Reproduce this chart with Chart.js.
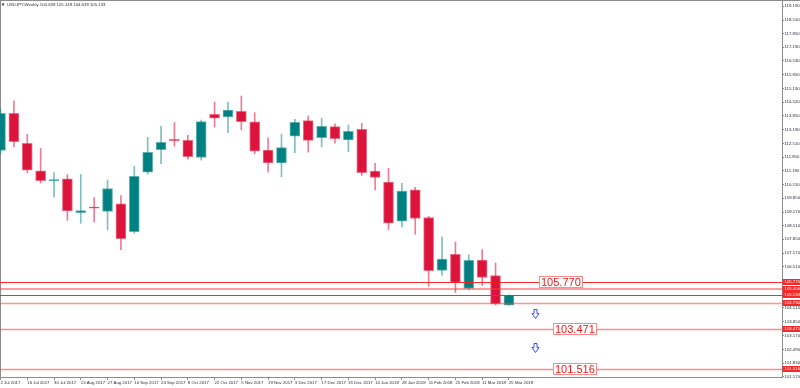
<!DOCTYPE html>
<html>
<head>
<meta charset="utf-8">
<script src="https://cdn.jsdelivr.net/npm/chart.js@4.4.1/dist/chart.umd.min.js"></script>
<style>
html,body{margin:0;padding:0;background:#ffffff;}
#wrap{width:800px;height:388px;position:relative;}
canvas{display:block;}
</style>
</head>
<body>
<div id="wrap"><canvas id="c" width="800" height="388"></canvas></div>
<script>
// ---------------- DATA ----------------
const symbol = 'USDJPY';
const timeframe = 'Weekly';

const weeks = [
  '2 Jul 2017','9 Jul 2017','16 Jul 2017','23 Jul 2017','30 Jul 2017','6 Aug 2017','13 Aug 2017','20 Aug 2017',
  '27 Aug 2017','3 Sep 2017','10 Sep 2017','17 Sep 2017','24 Sep 2017','1 Oct 2017','8 Oct 2017','15 Oct 2017',
  '22 Oct 2017','29 Oct 2017','5 Nov 2017','12 Nov 2017','19 Nov 2017','26 Nov 2017','3 Dec 2017','10 Dec 2017',
  '17 Dec 2017','24 Dec 2017','31 Dec 2017','7 Jan 2018','14 Jan 2018','21 Jan 2018','28 Jan 2018','4 Feb 2018',
  '11 Feb 2018','18 Feb 2018','25 Feb 2018','4 Mar 2018','11 Mar 2018','18 Mar 2018','25 Mar 2018'
];

const opens  = [112.17,113.98,112.52,111.18,110.70,110.79,109.14,109.42,109.21,109.57,108.22,111.12,112.21,112.70,112.66,111.83,
                113.93,113.80,114.08,113.56,112.19,111.56,112.86,113.62,112.79,113.33,112.68,113.20,111.17,110.63,108.73,110.26,
                108.91,106.34,107.12,105.46,106.84,106.08,104.639];
const highs  = [114.20,114.58,112.96,112.27,111.10,111.00,111.00,109.88,110.73,109.98,111.39,112.81,113.35,113.53,112.91,113.65,
                114.53,114.52,114.82,114.01,112.79,112.96,113.69,113.85,113.74,113.46,113.41,113.49,111.54,111.30,110.57,110.38,
                108.97,107.97,107.72,107.10,107.35,106.70,105.149];
const lows   = [112.00,112.34,111.09,110.58,109.90,108.77,108.63,108.68,108.31,107.35,108.14,111.02,111.53,112.38,111.74,111.70,
                113.31,113.04,113.17,112.01,111.12,110.89,112.06,112.09,112.35,112.52,112.11,110.95,110.25,108.32,108.45,108.09,
                105.56,106.09,105.26,105.38,105.60,104.65,104.639];
const closes = [113.98,112.60,111.21,110.70,110.75,109.23,109.25,109.36,110.32,107.88,110.91,112.08,112.56,112.65,111.87,113.57,
                113.74,114.13,113.57,112.14,111.56,112.31,113.54,112.66,113.35,112.75,113.10,111.09,110.86,108.63,110.19,108.86,
                106.32,106.89,105.75,106.82,105.99,104.71,105.133];

const yTickValues = [119.190,118.510,117.850,117.190,116.530,115.850,115.190,114.520,113.850,113.190,112.510,111.850,111.190,
                     110.510,109.850,109.170,108.510,107.850,107.170,106.510,105.850,105.170,104.510,103.850,103.170,102.490,
                     101.830,101.170];

const levelValues = [105.770, 105.450, 105.133, 104.730, 103.471, 101.516];
const boxedLevels = [105.770, 103.471, 101.516];

// ---------------- STYLE ----------------
const TEAL = '#008080', RED = '#dc143c';
const TEAL_SOFT = 'rgba(0,128,128,0.5)', RED_SOFT = 'rgba(220,20,60,0.55)';
const FRAME = '#8c8c8c';
const TINY = {family:'Liberation Sans, Arial, sans-serif', size:4.3};
const levelStyles = [
  {color:'rgba(255,30,30,0.95)', width:1},
  {color:'rgba(255,60,60,0.5)', width:2},
  {color:'rgba(255,30,30,0.95)', width:1},
  {color:'rgba(255,60,60,0.55)', width:1.5},
  {color:'rgba(255,60,60,0.6)', width:1.5},
  {color:'rgba(255,60,60,0.6)', width:1.5}
];
const boxAnchorIdx = [40.25, 41.29, 41.29];
const arrowMarks = [{i:39.95, v:104.26}, {i:39.95, v:102.585}];

const up = i => closes[i] >= opens[i];

const overlay = {
  id:'overlay',
  beforeDatasetsDraw(chart){
    const {ctx, chartArea:a} = chart;
    ctx.save();
    ctx.strokeStyle = FRAME; ctx.lineWidth = 1;
    ctx.beginPath();
    ctx.moveTo(0, 0.5); ctx.lineTo(800, 0.5);
    ctx.moveTo(0.5, 0); ctx.lineTo(0.5, a.bottom);
    ctx.stroke();
    ctx.restore();
  },
  afterDatasetsDraw(chart){
    const {ctx, chartArea:a, scales:{x, y}} = chart;
    ctx.save();
    // level lines
    levelValues.forEach((v, k) => {
      const st = levelStyles[k];
      const py = Math.round(y.getPixelForValue(v)) + (st.width % 2 ? 0.5 : 0);
      ctx.strokeStyle = st.color; ctx.lineWidth = st.width;
      ctx.beginPath(); ctx.moveTo(a.left, py); ctx.lineTo(a.right, py); ctx.stroke();
    });
    // boxed labels
    ctx.font = '11px "Liberation Sans", Arial, sans-serif';
    ctx.textBaseline = 'middle'; ctx.textAlign = 'left';
    boxedLevels.forEach((v, k) => {
      const txt = v.toFixed(3);
      const px = Math.round(x.getPixelForValue(boxAnchorIdx[k]));
      const py = Math.round(y.getPixelForValue(v));
      const w = Math.ceil(ctx.measureText(txt).width) + 4;
      ctx.fillStyle = '#ffffff';
      ctx.fillRect(px, py - 6, w, 12);
      ctx.strokeStyle = 'rgba(255,40,40,0.55)'; ctx.lineWidth = 1;
      ctx.strokeRect(px + 0.5, py - 5.5, w - 1, 11);
      ctx.fillStyle = '#f01818';
      ctx.fillText(txt, px + 2, py + 0.5);
    });
    // arrows
    arrowMarks.forEach(m => {
      const cx = Math.round(x.getPixelForValue(m.i)) + 0.5;
      const cy = y.getPixelForValue(m.v);
      const top = Math.round(cy - 4.5) + 0.5;
      ctx.beginPath();
      ctx.moveTo(cx - 1.5, top);
      ctx.lineTo(cx + 1.5, top);
      ctx.lineTo(cx + 1.5, top + 4);
      ctx.lineTo(cx + 3.5, top + 4);
      ctx.lineTo(cx, top + 9);
      ctx.lineTo(cx - 3.5, top + 4);
      ctx.lineTo(cx - 1.5, top + 4);
      ctx.closePath();
      ctx.fillStyle = '#ffffff'; ctx.fill();
      ctx.strokeStyle = '#3b4cff'; ctx.lineWidth = 1; ctx.stroke();
    });
    ctx.restore();
  },
  afterDraw(chart){
    const {ctx, chartArea:a, scales:{y}} = chart;
    ctx.save();
    // title
    const n = closes.length - 1;
    const title = symbol + ',' + timeframe + ' ' + opens[n].toFixed(3) + ' ' + highs[n].toFixed(3) + ' ' +
                  lows[n].toFixed(3) + ' ' + closes[n].toFixed(3);
    ctx.fillStyle = '#2a2a3a';
    ctx.beginPath(); ctx.moveTo(1.5, 3.5); ctx.lineTo(4.5, 3.5); ctx.lineTo(3, 6); ctx.closePath(); ctx.fill();
    ctx.font = '4.3px "Liberation Sans", Arial, sans-serif';
    ctx.textBaseline = 'middle'; ctx.textAlign = 'left';
    ctx.fillText(title, 7, 5);
    // red price labels on the right axis
    levelValues.forEach(v => {
      const py = Math.round(y.getPixelForValue(v));
      ctx.fillStyle = '#f42a2a';
      ctx.fillRect(a.right + 0.5, py - 3, 800 - a.right, 6);
      ctx.fillStyle = '#ffffff';
      ctx.fillText(v.toFixed(3), a.right + 2.5, py + 0.3);
    });
    ctx.restore();
  }
};

new Chart(document.getElementById('c'), {
  type:'bar',
  data:{
    datasets:[
      {
        label:'Body',
        data: weeks.map((w, i) => ({x:i, y:[opens[i], closes[i]]})),
        backgroundColor: weeks.map((w, i) => up(i) ? TEAL : RED),
        borderColor: weeks.map((w, i) => up(i) ? 'rgba(0,128,128,0.6)' : 'rgba(220,20,60,0.6)'),
        borderWidth:1, borderSkipped:false, barThickness:10, minBarLength:1.2,
        grouped:false, order:0
      },
      {
        label:'Wick',
        data: weeks.map((w, i) => ({x:i, y:[lows[i], highs[i]]})),
        backgroundColor: weeks.map((w, i) => up(i) ? TEAL_SOFT : RED_SOFT),
        borderWidth:0, barThickness:1, grouped:false, order:1
      }
    ]
  },
  options:{
    responsive:false, animation:false, devicePixelRatio:1,
    layout:{padding:0},
    plugins:{legend:{display:false}, tooltip:{enabled:false}, title:{display:false}},
    scales:{
      x:{
        type:'linear', min:-0.0374, max:58.41, offset:false,
        afterBuildTicks: s => { s.ticks = weeks.map((w, i) => i).filter(i => i % 2 === 0).map(i => ({value:i})); },
        afterFit: s => { s.height = 11; s.paddingLeft = 0; s.paddingRight = 0; },
        grid:{drawOnChartArea:false, drawTicks:true, tickLength:3, color:FRAME, offset:false},
        border:{display:true, color:FRAME, width:1},
        ticks:{align:'start', padding:0.5, maxRotation:0, minRotation:0, autoSkip:false,
               font:TINY, color:'#2a2a3a', callback: v => weeks[v]}
      },
      y:{
        position:'right', min:101.15, max:119.49,
        afterBuildTicks: s => { s.ticks = yTickValues.map(v => ({value:v})); },
        afterFit: s => { s.width = 18; s.paddingTop = 0; s.paddingBottom = 0; },
        grid:{drawOnChartArea:false, drawTicks:true, tickLength:2, color:FRAME},
        border:{display:true, color:FRAME, width:1},
        ticks:{padding:0.5, autoSkip:false, font:TINY, color:'#2a2a3a', callback: v => Number(v).toFixed(3)}
      }
    }
  },
  plugins:[overlay]
});
</script>
</body>
</html>
